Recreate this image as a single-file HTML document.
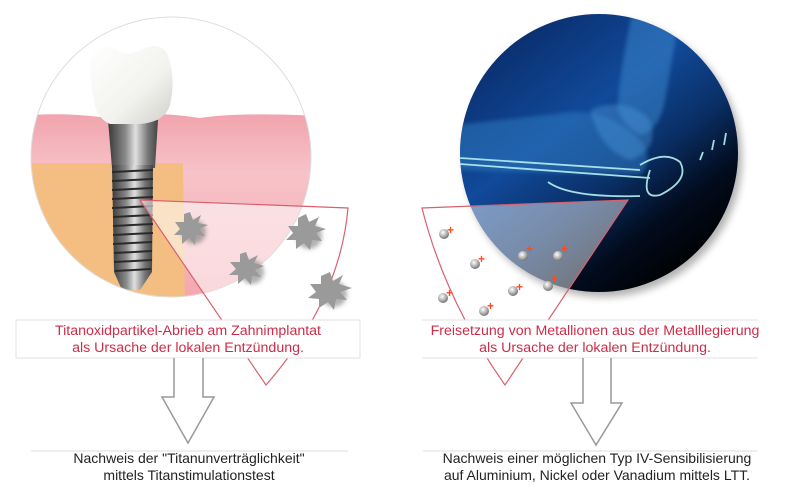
<!DOCTYPE html>
<html><head><meta charset="utf-8"><style>
html,body{margin:0;padding:0;background:#fff;width:800px;height:494px;overflow:hidden}
svg{display:block}
text{font-family:"Liberation Sans","DejaVu Sans",sans-serif}
</style></head><body>
<svg width="800" height="494" viewBox="0 0 800 494" xmlns="http://www.w3.org/2000/svg">
<defs>
<clipPath id="cl"><circle cx="171" cy="157" r="140"/></clipPath>
<clipPath id="cr"><circle cx="599" cy="153" r="139"/></clipPath>
<linearGradient id="gum" x1="0" y1="0" x2="0" y2="1">
<stop offset="0" stop-color="#f1a3ad"/><stop offset="0.3" stop-color="#f7c3c8"/><stop offset="1" stop-color="#f3a5ae"/></linearGradient>
<linearGradient id="metal" x1="0" y1="0" x2="1" y2="0">
<stop offset="0" stop-color="#3a3a3a"/><stop offset="0.35" stop-color="#8a8a8a"/><stop offset="0.55" stop-color="#e0e0e0"/><stop offset="0.8" stop-color="#777"/><stop offset="1" stop-color="#444"/></linearGradient>
<linearGradient id="crown" x1="0" y1="0" x2="1" y2="1">
<stop offset="0" stop-color="#fff"/><stop offset="0.6" stop-color="#f2f2ee"/><stop offset="1" stop-color="#cfcfca"/></linearGradient>
<linearGradient id="xr" x1="0.2" y1="0.1" x2="0.8" y2="0.9">
<stop offset="0" stop-color="#0a3070"/><stop offset="0.35" stop-color="#114a9a"/><stop offset="0.6" stop-color="#0a2f66"/><stop offset="0.8" stop-color="#020c1e"/><stop offset="1" stop-color="#000"/></linearGradient>
<radialGradient id="ball" cx="0.4" cy="0.35" r="0.7">
<stop offset="0" stop-color="#fff"/><stop offset="0.6" stop-color="#aaa"/><stop offset="1" stop-color="#666"/></radialGradient>
<filter id="sh"><feGaussianBlur stdDeviation="2"/></filter>
<filter id="bl"><feGaussianBlur stdDeviation="4"/></filter>
</defs>

<!-- LEFT CIRCLE -->
<g clip-path="url(#cl)">
<rect x="20" y="10" width="300" height="300" fill="#fff"/>
<path d="M20 116 Q60 112 100 117 Q150 110 200 118 Q240 112 320 116 L320 310 L20 310Z" fill="url(#gum)"/>
<path d="M20 163 L183 163 L185 310 L20 310Z" fill="#f6c58c"/>
<path d="M20 163 L183 163 L185 310 L20 310Z" fill="#eeb070" opacity="0.3"/>
<path d="M108 120 L158 120 L155 168 L112 168Z" fill="url(#metal)"/>
<path d="M112 165 L153 165 L152 272 L140 290 L122 290 L114 272Z" fill="url(#metal)"/>
<g stroke="#2a2a2a" stroke-width="2">
<line x1="112" y1="172" x2="153" y2="170"/><line x1="112" y1="181" x2="153" y2="179"/><line x1="112" y1="190" x2="153" y2="188"/><line x1="112" y1="199" x2="153" y2="197"/><line x1="112" y1="208" x2="153" y2="206"/><line x1="113" y1="217" x2="153" y2="215"/><line x1="113" y1="226" x2="153" y2="224"/><line x1="113" y1="235" x2="153" y2="233"/><line x1="113" y1="244" x2="152" y2="242"/><line x1="114" y1="253" x2="152" y2="251"/><line x1="114" y1="262" x2="152" y2="260"/><line x1="115" y1="271" x2="151" y2="269"/>
</g>
<path d="M92 52 Q96 44 115 48 Q125 58 140 50 Q160 40 168 55 Q176 80 170 105 Q165 122 140 124 L110 124 Q96 118 94 100 Q88 75 92 52Z" fill="url(#crown)"/>
<path d="M140 200 L348 208 Q340 300 266 385 Z" fill="#fff" fill-opacity="0.55"/>
</g>
<circle cx="171" cy="157" r="140" fill="none" stroke="#ddd" stroke-width="1"/>
<path d="M140 200 L348 208 Q340 300 266 385 Z" fill="none" stroke="#d9606f" stroke-width="1.2"/>

<g fill="#666" filter="url(#sh)" opacity="0.5">
<circle cx="194" cy="232" r="12"/><circle cx="252" cy="272" r="12"/><circle cx="309" cy="236" r="13"/><circle cx="334" cy="294" r="13"/></g>
<g fill="#9a9a9a">
<polygon points="190,212 193,220 201,215 198,223 208,225 199,229 205,236 196,235 195,245 189,238 182,244 182,235 174,235 180,229 175,222 184,222 184,214"/>
<polygon points="246,252 249,260 258,255 254,263 264,266 255,270 261,277 252,276 251,285 245,278 238,284 238,275 229,275 236,269 230,262 240,262 240,254"/>
<polygon points="306,214 309,222 319,217 315,226 326,229 316,233 322,241 312,240 310,250 304,243 296,249 296,240 286,240 293,233 288,226 298,226 298,218"/>
<polygon points="330,272 333,281 343,275 339,284 352,288 340,292 347,300 336,299 334,310 328,302 319,308 319,299 308,298 316,292 310,284 321,284 321,276"/>
</g>

<!-- RIGHT CIRCLE -->
<circle cx="603" cy="158" r="139" fill="#000" opacity="0.3" filter="url(#bl)"/>
<g clip-path="url(#cr)">
<rect x="455" y="10" width="290" height="290" fill="url(#xr)"/>
<path d="M632 14 Q622 60 618 100 Q615 120 640 135 Q660 130 665 100 Q672 60 680 14Z" fill="#3a86cc" opacity="0.55" filter="url(#sh)"/>
<path d="M455 125 Q520 118 570 112 Q610 110 640 140 Q655 160 640 175 L455 170Z" fill="#2d78c0" opacity="0.55" filter="url(#sh)"/>
<path d="M590 110 Q625 95 650 120 Q660 150 630 160 Q600 150 590 110Z" fill="#4a96d8" opacity="0.45" filter="url(#sh)"/>
<g stroke="#b8f0f0" stroke-width="1.8" fill="none" opacity="0.9">
<path d="M460 158 L640 170"/><path d="M460 164 L650 178"/><path d="M548 182 Q570 198 640 196"/>
<path d="M640 165 Q665 150 680 162 Q690 180 660 195 Q640 200 650 170"/>
<path d="M700 160 l3 -8 M712 150 l2 -10 M724 145 l2 -12"/>
</g>
<path d="M422 208 L628 200 L505 385 Q445 300 422 208Z" fill="#fff" fill-opacity="0.45"/>
</g>
<path d="M422 208 L628 200 L505 385 Q445 300 422 208Z" fill="none" stroke="#d9606f" stroke-width="1.2"/>
<g font-family="Liberation Sans" font-size="12" font-weight="bold" fill="#ff4a1a">
<text x="447" y="234">+</text><text x="478" y="263">+</text><text x="446" y="297">+</text><text x="487" y="310">+</text><text x="516" y="291">+</text><text x="551" y="282">+</text><text x="526" y="253">+</text><text x="561" y="253">+</text>
</g>
<g>
<circle cx="444" cy="234" r="5" fill="url(#ball)"/><circle cx="475" cy="264" r="5" fill="url(#ball)"/><circle cx="443" cy="298" r="5" fill="url(#ball)"/><circle cx="484" cy="311" r="5" fill="url(#ball)"/><circle cx="513" cy="291" r="5" fill="url(#ball)"/><circle cx="548" cy="286" r="5" fill="url(#ball)"/><circle cx="523" cy="256" r="5" fill="url(#ball)"/><circle cx="558" cy="256" r="5" fill="url(#ball)"/>
</g>

<!-- boxes -->
<rect x="16" y="320" width="344" height="38" fill="#fff" stroke="#e0e0e0" stroke-width="1"/>
<rect x="422" y="320" width="336" height="38" fill="#fff"/>
<line x1="422" y1="320" x2="758" y2="320" stroke="#e0e0e0"/>
<line x1="422" y1="358" x2="758" y2="358" stroke="#e0e0e0"/>
<g font-size="14.2" fill="#cf2c48" text-anchor="middle">
<text x="188" y="335">Titanoxidpartikel-Abrieb am Zahnimplantat</text>
<text x="188" y="352">als Ursache der lokalen Entzündung.</text>
<text x="595" y="335">Freisetzung von Metallionen aus der Metalllegierung</text>
<text x="595" y="352">als Ursache der lokalen Entzündung.</text>
</g>

<!-- arrows -->
<path d="M174 358 L174 397 L162 397 L188 443 L214 397 L203 397 L203 358" fill="#fff" stroke="#999" stroke-width="1.5"/>
<path d="M583 358 L583 403 L571 403 L596 445 L622 403 L611 403 L611 358" fill="#fff" stroke="#999" stroke-width="1.5"/>

<line x1="31" y1="451" x2="348" y2="451" stroke="#ddd"/>
<line x1="423" y1="451" x2="757" y2="451" stroke="#ddd"/>
<g font-size="14" fill="#222" text-anchor="middle">
<text x="189" y="463">Nachweis der "Titanunverträglichkeit"</text>
<text x="189" y="480">mittels Titanstimulationstest</text>
<text x="597" y="463">Nachweis einer möglichen Typ IV-Sensibilisierung</text>
<text x="597" y="480">auf Aluminium, Nickel oder Vanadium mittels LTT.</text>
</g>
</svg>
</body></html>
